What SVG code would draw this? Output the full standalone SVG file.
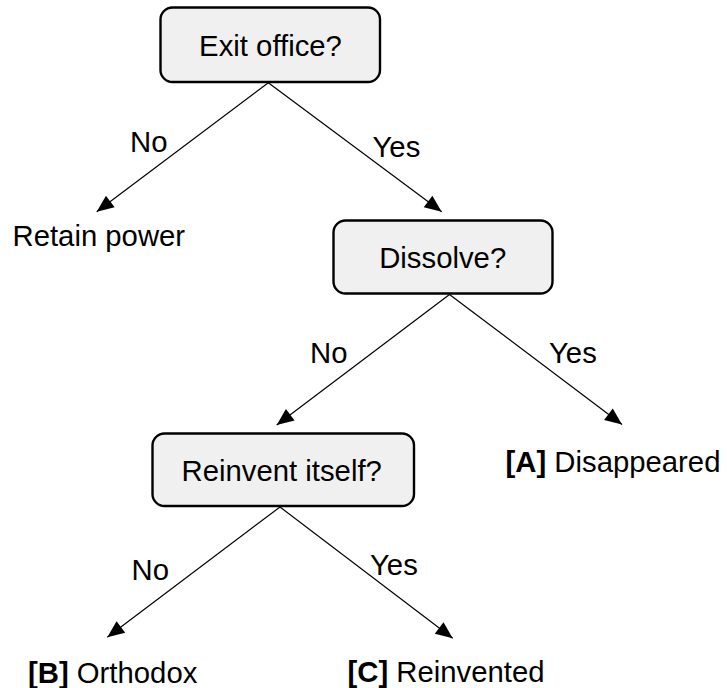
<svg xmlns="http://www.w3.org/2000/svg" width="727" height="688" viewBox="0 0 727 688">
<style>
  text { font-family: "Liberation Sans", Arial, Helvetica, sans-serif; font-size: 29.3px; fill: #000; }
  .box { fill: #f0f0f0; stroke: #000; stroke-width: 2.4; }
  .mid { text-anchor: middle; }
  .b { font-weight: bold; }
  .edge { stroke: #000; stroke-width: 1.2; fill: none; marker-end: url(#arrow); }
</style>
<defs>
  <marker id="arrow" markerUnits="userSpaceOnUse" markerWidth="20" markerHeight="18" viewBox="0 0 20 18" refX="18" refY="9" orient="auto">
    <path d="M1,1.8 L18,9 L1,16.2 Z" fill="#000"/>
  </marker>
</defs>
<rect width="727" height="688" fill="#fff"/>
<g id="connectors">
  <line class="edge" x1="268.3" y1="82.7" x2="96.7" y2="211.7"/>
  <line class="edge" x1="268.3" y1="82.7" x2="441.7" y2="211.7"/>
  <line class="edge" x1="449.5" y1="294.5" x2="276.7" y2="425"/>
  <line class="edge" x1="449.5" y1="294.5" x2="622" y2="424.5"/>
  <line class="edge" x1="280" y1="507" x2="107.3" y2="637.3"/>
  <line class="edge" x1="280" y1="507" x2="452.7" y2="638.3"/>
  <text x="130" y="152">No</text>
  <text x="372.5" y="156.7">Yes</text>
  <text x="310" y="363.3">No</text>
  <text x="549" y="363.3">Yes</text>
  <text x="131.5" y="580">No</text>
  <text x="370" y="575">Yes</text>
</g>
<g id="exit-office">
  <rect class="box" x="160.5" y="7.5" width="219.5" height="74.5" rx="12" ry="12"/>
  <text class="mid" x="270.5" y="56">Exit office?</text>
</g>
<g id="retain-power">
  <text x="12.5" y="246">Retain power</text>
</g>
<g id="dissolve">
  <rect class="box" x="333.5" y="220.5" width="219" height="73" rx="12" ry="12"/>
  <text class="mid" x="442.7" y="268.3">Dissolve?</text>
</g>
<g id="disappeared">
  <text x="505.5" y="471.7"><tspan class="b">[A]</tspan> Disappeared</text>
</g>
<g id="reinvent-itself">
  <rect class="box" x="152.5" y="433.5" width="261.5" height="72.5" rx="12" ry="12"/>
  <text class="mid" x="281.7" y="480.7">Reinvent itself?</text>
</g>
<g id="orthodox">
  <text x="28" y="682.7"><tspan class="b">[B]</tspan> Orthodox</text>
</g>
<g id="reinvented">
  <text x="347.5" y="681.7"><tspan class="b">[C]</tspan> Reinvented</text>
</g>
</svg>
